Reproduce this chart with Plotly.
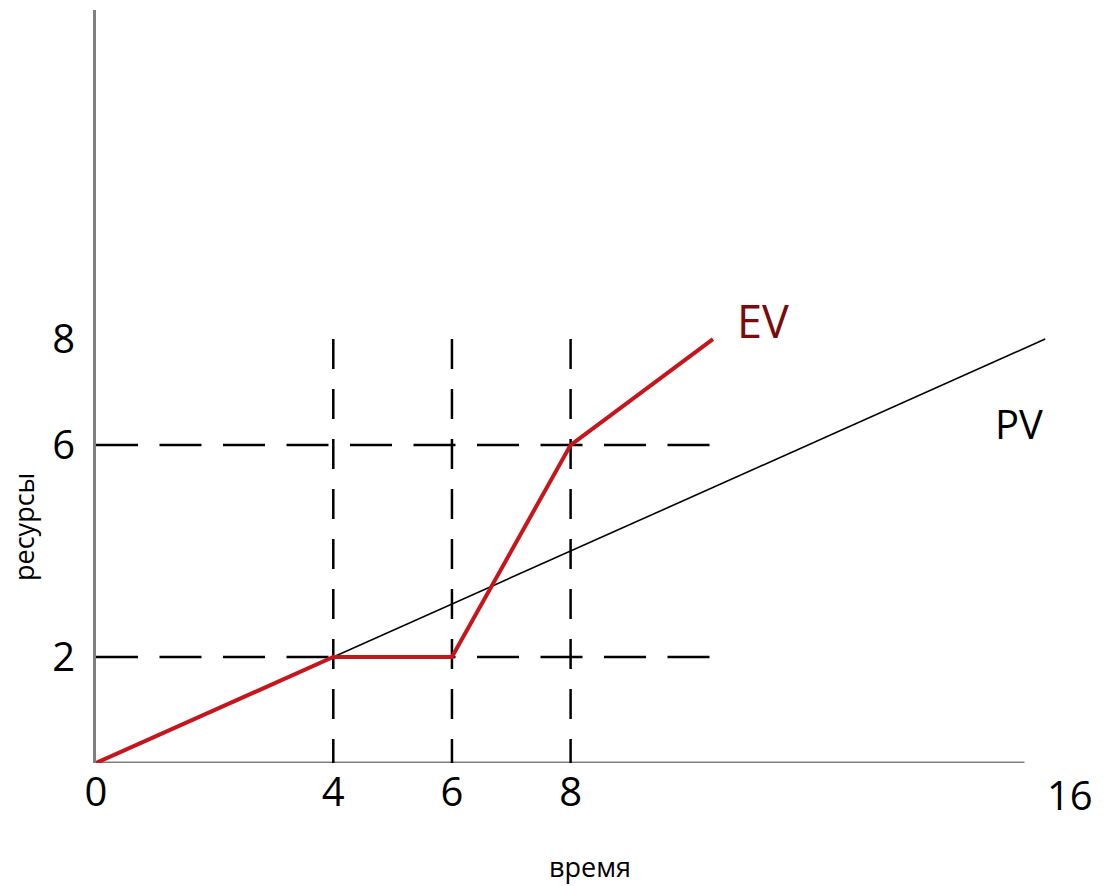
import plotly.graph_objects as go

# ---- data ----
pv_x = [0, 16]
pv_y = [0, 8]
ev_x = [0, 4, 6, 8, 10.4]
ev_y = [0, 2, 2, 6, 8]
vguide_x = [4, 6, 8]          # vertical dashed guides
vguide_top = 8
hguide_y = [2, 6]             # horizontal dashed guides
hguide_end = 10.45
x_tick_vals = [0, 4, 6, 8]
x_tick_text = ["0", "4", "6", "8"]
x_far_label = 16
y_tick_vals = [2, 6, 8]
y_tick_text = ["2", "6", "8"]
x_axis_end = 15.65
x_range = [0, 16.3]
y_range = [0, 14.21]

FONT = "Open Sans"

fig = go.Figure()

# dashed guides
for xv in vguide_x:
    fig.add_trace(go.Scatter(x=[xv, xv], y=[vguide_top, 0], mode="lines",
                             line=dict(color="black", width=2.5, dash="30px,20px"),
                             hoverinfo="skip", showlegend=False))
for yv in hguide_y:
    fig.add_trace(go.Scatter(x=[0, hguide_end], y=[yv, yv], mode="lines",
                             line=dict(color="black", width=2.5, dash="42px,21.5px"),
                             hoverinfo="skip", showlegend=False))

# PV
fig.add_trace(go.Scatter(x=pv_x, y=pv_y, mode="lines",
                         line=dict(color="black", width=1.6),
                         hoverinfo="skip", showlegend=False, name="PV"))
# EV
fig.add_trace(go.Scatter(x=ev_x, y=ev_y, mode="lines",
                         line=dict(color="#c4161c", width=4),
                         hoverinfo="skip", showlegend=False, name="EV"))

# x axis line (ends before the far label)
fig.add_shape(type="line", xref="x", yref="y", x0=0, x1=x_axis_end, y0=0, y1=0,
              line=dict(color="#808080", width=3), layer="below")

fig.update_xaxes(range=x_range, showgrid=False, zeroline=False, showline=False,
                 tickvals=x_tick_vals, ticktext=x_tick_text, ticks="",
                 tickfont=dict(family=FONT, size=40, color="black"),
                 ticklabelstandoff=2, fixedrange=True)
fig.update_yaxes(range=y_range, showgrid=False, zeroline=False, showline=True,
                 linecolor="#808080", linewidth=3,
                 tickvals=y_tick_vals, ticktext=y_tick_text, ticks="",
                 tickfont=dict(family=FONT, size=40, color="black"),
                 ticklabelstandoff=10, fixedrange=True)

annotations = [
    dict(x=x_far_label, y=0, xref="x", yref="y", text=str(x_far_label), showarrow=False,
         xanchor="center", yanchor="middle",
         xshift=25, yshift=-31, font=dict(family=FONT, size=40, color="black")),
    dict(x=11.25, y=8.36, xref="x", yref="y", text="EV", showarrow=False,
         xanchor="center", yanchor="middle",
         font=dict(family=FONT, size=45, color="#7d0a0a")),
    dict(x=15.55, y=6.4, xref="x", yref="y", text="PV", showarrow=False,
         xanchor="center", yanchor="middle",
         font=dict(family=FONT, size=40, color="black")),
    dict(x=590, y=866, xref="paper", yref="paper", text="время", showarrow=False,
         xanchor="center", yanchor="middle",
         font=dict(family=FONT, size=27, color="black")),
    dict(x=23, y=527, xref="paper", yref="paper", text="ресурсы", showarrow=False,
         xanchor="center", yanchor="middle",
         textangle=-90, font=dict(family=FONT, size=27, color="black")),
]
# convert pixel-placed title annotations to paper coords
L, R, T, B = 96, 43, 10, 123
W, H = 1106, 886
pw, ph = W - L - R, H - T - B
for a in annotations:
    if a["xref"] == "paper":
        a["x"] = (a["x"] - L) / pw
        a["y"] = 1 - (a["y"] - T) / ph

fig.update_layout(width=W, height=H, margin=dict(l=L, r=R, t=T, b=B),
                  plot_bgcolor="white", paper_bgcolor="white",
                  annotations=annotations, showlegend=False, hovermode=False)

fig.write_html("out.html", config={"displayModeBar": False, "staticPlot": True},
               post_script="document.body.style.margin='0';document.body.style.overflow='hidden';")
